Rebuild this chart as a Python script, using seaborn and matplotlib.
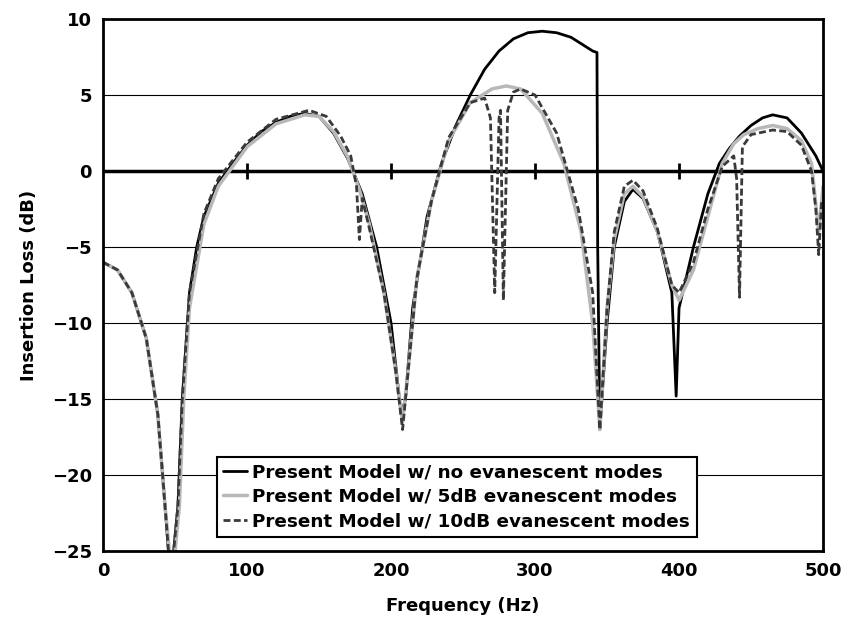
import numpy as np
import pandas as pd
import seaborn as sns
import matplotlib.pyplot as plt

# values
f_none = [0, 10, 20, 30, 38, 43, 47, 52, 55, 60, 65, 70, 80, 90, 100, 110, 120, 130, 140, 150, 160, 170, 180, 190, 200,
          207, 210, 215, 225, 235, 245, 255, 265, 275, 285, 295, 305, 315, 325, 335, 340, 343, 343.5, 345, 350, 355,
          362, 368, 375, 385, 395, 398, 400, 410, 420, 428, 435, 442, 450, 458, 465, 475, 485, 495, 500]
il_none = [-6, -6.5, -8, -11, -16, -22, -27, -22, -15, -8, -5, -3, -0.8, 0.5, 1.7, 2.6, 3.2, 3.6, 3.8, 3.6, 2.5, 0.8, -1.5,
           -5, -10, -16, -15, -9, -3, 0.5, 3, 5, 6.7, 7.9, 8.7, 9.1, 9.2, 9.1, 8.8, 8.2, 7.9, 7.8, -5, -17, -10, -5,
           -2, -1.2, -1.8, -4, -8, -14.8, -9, -5, -1.5, 0.5, 1.5, 2.3, 3, 3.5, 3.7, 3.5, 2.5, 1, 0]

f_5db = [0, 10, 20, 30, 38, 43, 48, 53, 56, 60, 70, 80, 90, 100, 120, 140, 150, 160, 170, 178, 185, 195, 203, 208,
         212, 218, 228, 240, 255, 270, 280, 290, 305, 320, 332, 340, 345, 350, 355, 362, 368, 375, 385, 395, 400,
         410, 420, 430, 438, 445, 455, 465, 475, 485, 492, 497, 500]
il_5db = [-6, -6.5, -8, -11, -16, -22, -27, -22, -15, -9, -3.5, -1, 0.3, 1.6, 3.1, 3.7, 3.6, 2.6, 0.9, -1.2, -3.5, -8, -13,
          -16.5, -13, -7, -2, 2, 4.5, 5.4, 5.6, 5.4, 3.8, 0.5, -4, -10, -17, -9, -4.5, -1.5, -1, -1.7, -4, -7.5, -8.5,
          -6.5, -3, 0.5, 1.8, 2.4, 2.8, 3, 2.8, 2, 0.5, -4, -1]

f_10db = [0, 10, 20, 30, 38, 43, 47, 52, 55, 60, 70, 80, 90, 100, 120, 143, 155, 165, 172, 176, 178, 180, 185, 195,
          203, 208, 212, 218, 228, 240, 255, 265, 269, 272, 275, 276, 278, 281, 285, 290, 300, 315, 330, 340, 345,
          350, 355, 362, 368, 375, 385, 395, 400, 410, 420, 430, 438, 440, 442, 444, 450, 465, 475, 485, 492, 495,
          497, 499, 500]
il_10db = [-6, -6.5, -8, -11, -16, -22, -27, -22, -15, -8, -2.8, -0.5, 0.7, 1.9, 3.4, 4, 3.6, 2.3, 1, -1, -4.5, -1.8, -3.8,
           -8, -13, -17, -13, -7, -2, 2.2, 4.5, 4.8, 3.5, -8, 3.5, 4, -8.5, 4, 5.2, 5.4, 5, 2.5, -2.5, -8, -17,
           -9, -4, -1, -0.6, -1.3, -3.8, -7.5, -8, -6, -2.5, 0.3, 1, -0.5, -8.3, 1.6, 2.4, 2.7, 2.6, 1.7, 0, -2.5,
           -5.5, -2, -2]

labels = ["Present Model w/ no evanescent modes",
          "Present Model w/ 5dB evanescent modes",
          "Present Model w/ 10dB evanescent modes"]

sns.set_style("white")
plt.rcParams['font.family'] = ['DejaVu Sans']
plt.rcParams['font.weight'] = 'bold'
plt.rcParams['text.color'] = 'black'
plt.rcParams['axes.labelcolor'] = 'black'
plt.rcParams['xtick.color'] = 'black'
plt.rcParams['ytick.color'] = 'black'

fig, ax = plt.subplots(figsize=(8.45, 6.35), dpi=100)
sns.lineplot(x=f_none, y=il_none, ax=ax, color="black", lw=2, label=labels[0], sort=False)
sns.lineplot(x=f_5db, y=il_5db, ax=ax, color="#b8b8b8", lw=2.5, label=labels[1], sort=False)
sns.lineplot(x=f_10db, y=il_10db, ax=ax, color="#3a3a3a", lw=2, ls=(0, (2.5, 1.2)), label=labels[2], sort=False)

ax.set_xlim(0, 500)
ax.set_ylim(-25, 10)
ax.set_yticks(range(-25, 11, 5))
ax.set_xticks(range(0, 501, 100))
for y in range(-20, 10, 5):
    if y != 0:
        ax.axhline(y, color="black", lw=0.8, zorder=0)
ax.axhline(0, color="black", lw=2.5, zorder=1)
ax.scatter([100, 200, 300, 400], [0] * 4, marker="|", s=120, color="black", linewidths=2, zorder=1)
for s in ax.spines.values():
    s.set_color("black")
    s.set_linewidth(2)
ax.tick_params(labelsize=13, length=0, pad=8)
for t in ax.get_xticklabels() + ax.get_yticklabels():
    t.set_fontweight("bold")
ax.set_xlabel("Frequency (Hz)", fontsize=13, fontweight="bold", labelpad=12)
ax.set_ylabel("Insertion Loss (dB)", fontsize=13, fontweight="bold", labelpad=10)

leg = ax.legend(loc="lower left", bbox_to_anchor=(0.145, 0.01), fontsize=13.2, frameon=True,
                fancybox=False, handlelength=1.3, handletextpad=0.3, borderpad=0.35, labelspacing=0.35)
leg.get_frame().set_edgecolor("black")
leg.get_frame().set_linewidth(1.5)
leg.get_frame().set_alpha(1)

plt.subplots_adjust(left=0.122, right=0.974, top=0.97, bottom=0.132)
plt.savefig("out.png", dpi=100)
